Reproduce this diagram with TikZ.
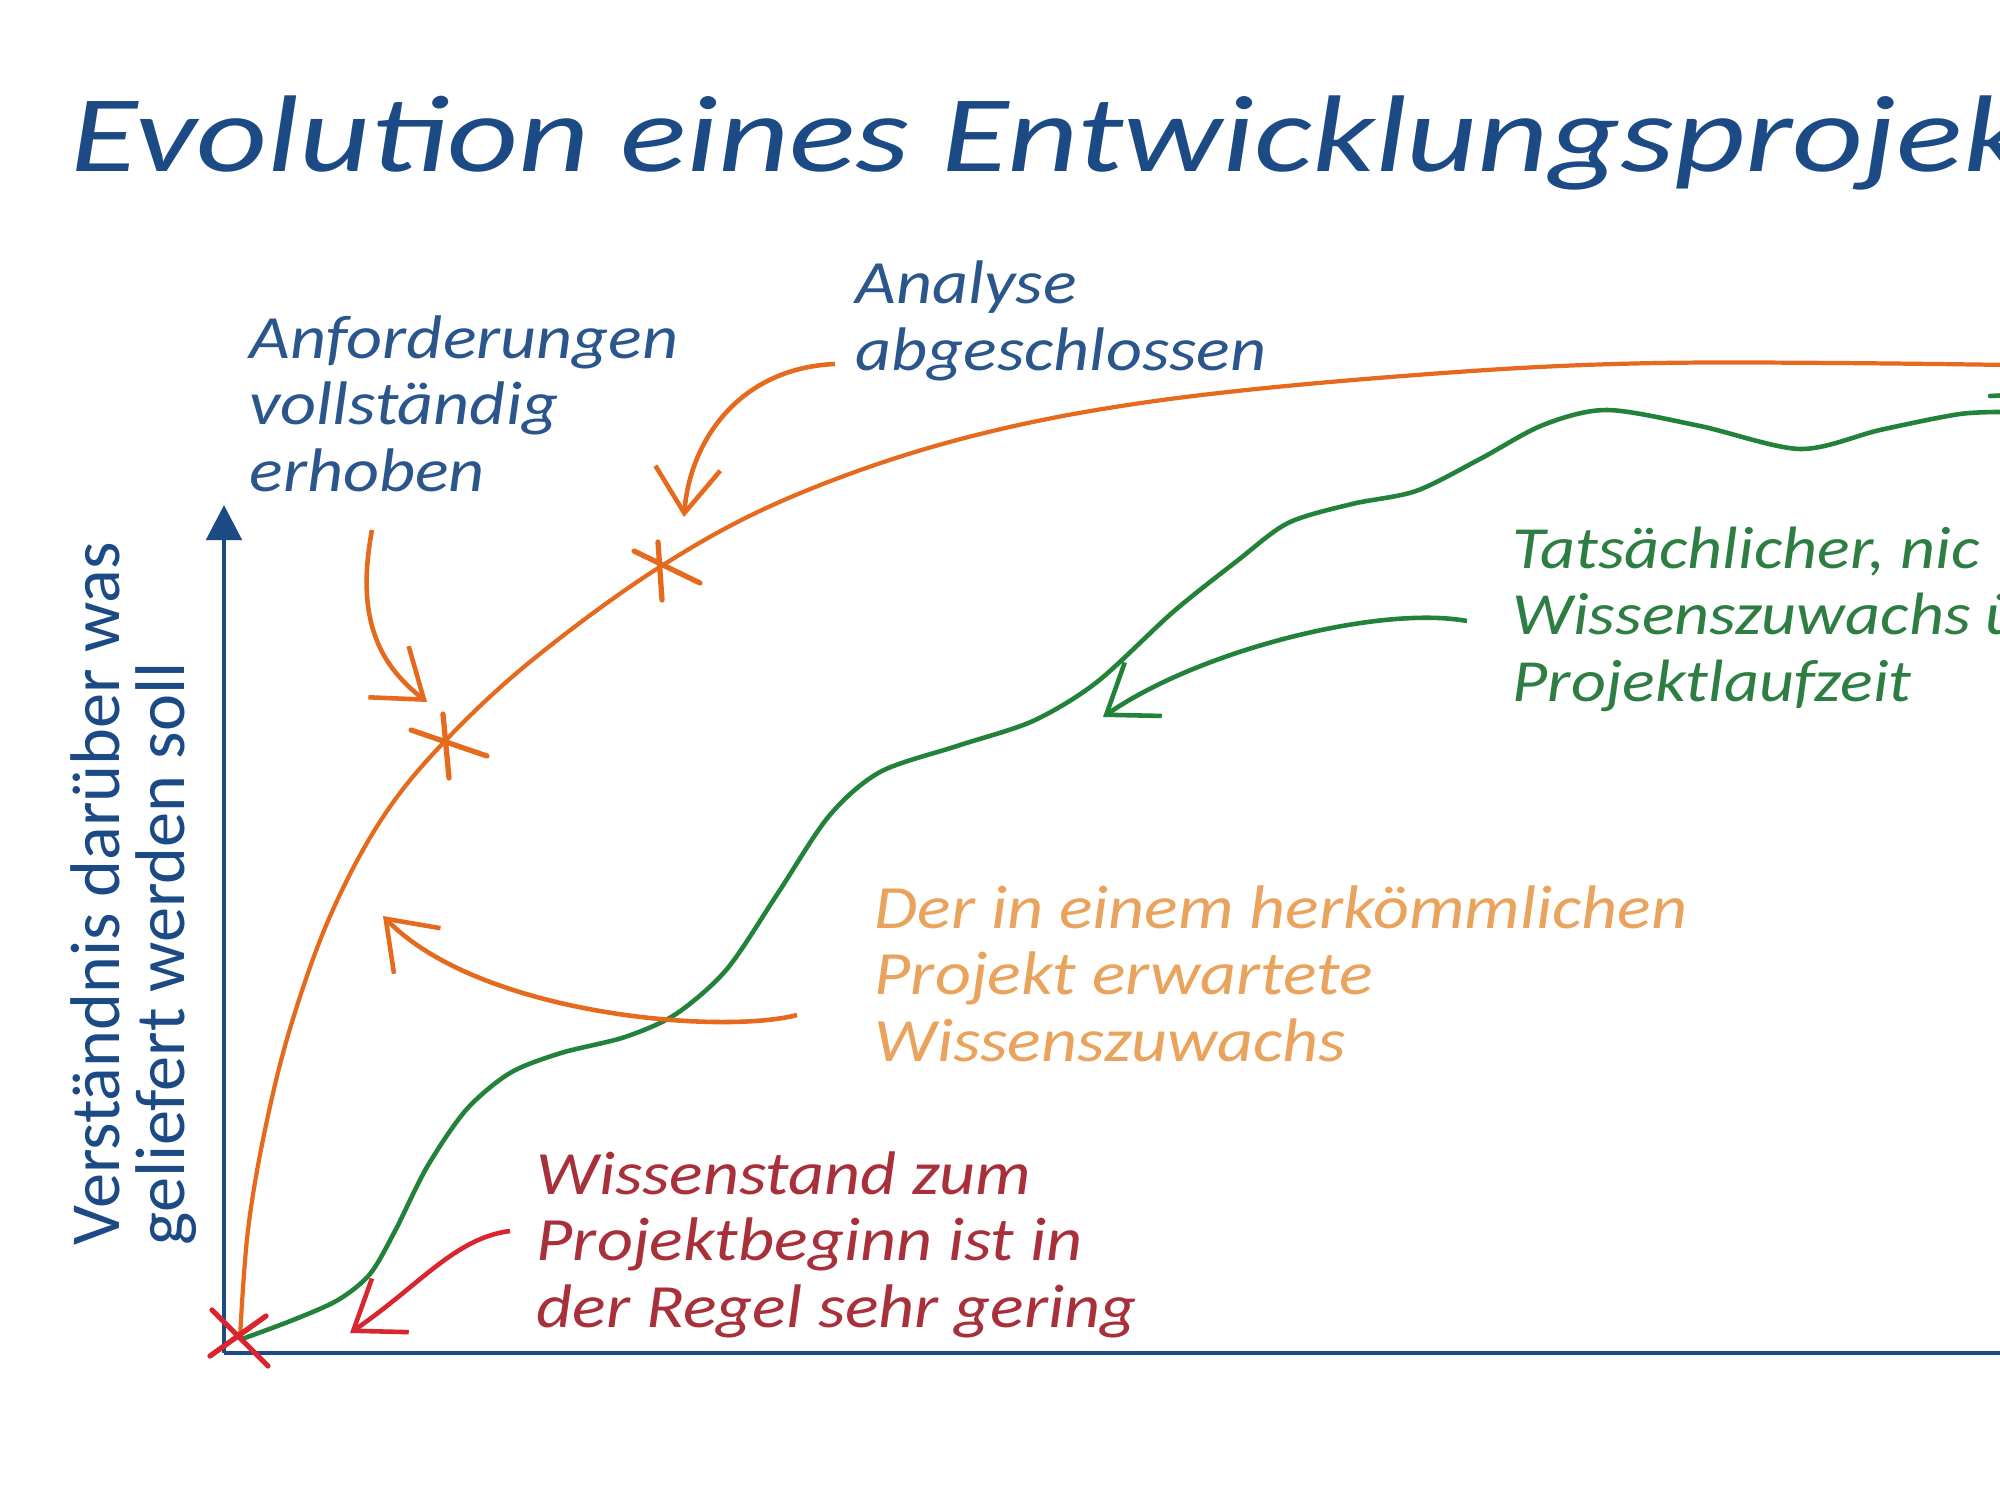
\documentclass[tikz,border=0pt]{standalone}
\usepackage{fontspec}
\setmainfont{Carlito}
\newfontfamily\handfont[FakeStretch=1.14]{Carlito}
\newfontfamily\titlefont[FakeStretch=1.27]{Carlito}
\usetikzlibrary{arrows.meta, positioning, calc}
\definecolor{axisblue}{HTML}{1B4A85}
\definecolor{noteblue}{HTML}{2A568C}
\definecolor{curveorange}{HTML}{E56A1E}
\definecolor{noteorange}{HTML}{EAA35C}
\definecolor{curvegreen}{HTML}{22823A}
\definecolor{notegreen}{HTML}{2E7E44}
\definecolor{notered}{HTML}{A8303A}
\definecolor{arrowred}{HTML}{D8252F}
\tikzset{
    note/.style={anchor=base west, align=left, inner sep=0pt, font=\handfont\itshape\fontsize{17.5}{18.8}\selectfont},
    note_blue/.style={note, text=noteblue},
    note_orange/.style={note, text=noteorange},
    note_green/.style={note, text=notegreen, font=\handfont\itshape\fontsize{17}{18.8}\selectfont},
    note_red/.style={note, text=notered},
    axis_line/.style={draw=axisblue, line width=1.4pt},
    curve_orange/.style={draw=curveorange, line width=1.2pt},
    curve_green/.style={draw=curvegreen, line width=1.3pt},
    cross/.style={line width=1.5pt, line cap=round},
    arrow/.style={-{Straight Barb[length=4.5mm, width=6.5mm]}, line width=1.3pt}
}
\begin{document}
\begin{tikzpicture}[x=0.01cm, y=-0.01cm]
            \useasboundingbox (0,0) rectangle (2000,1500);
            \fill[white] (0,0) rectangle (2000,1500);
            \clip (0,0) rectangle (2000,1500);

            % Title and axis label
            \node (title) [anchor=base west, inner sep=0pt, text=axisblue, font=\titlefont\itshape\fontsize{31}{36}\selectfont] at (70,172) {Evolution eines Entwicklungsprojek};

            \node (ylab) [rotate=90, anchor=west, align=left, inner sep=0pt, text=axisblue, font=\fontsize{20}{18.5}\selectfont] at (134,1246) {Verständnis darüber was\\geliefert werden soll};

            % Axes
            \coordinate (origin) at (224,1353);
            \coordinate (yend) at (224,505);
            \coordinate (xend) at (2010,1353);
            \draw [axis_line, -{Triangle[length=3.5mm, width=3.5mm]}] (origin) -- (yend);
            \draw [axis_line] (origin) -- (xend);

            % Curves
            \draw [curve_orange] plot[smooth, tension=0.6] coordinates {(240,1338) (248,1230) (266,1125) (292,1022) (331,914) (383,817) (446,740) (536,657) (663,565) (791,497) (957,440) (1148,402) (1403,376) (1658,363) (2010,365)};
            \draw [curve_green] plot[smooth, tension=0.5] coordinates {(242,1339) (293,1320) (338,1300) (370,1274) (395,1231) (427,1167) (466,1110) (510,1073) (561,1053) (625,1037) (676,1014) (727,969) (778,893) (829,816) (880,772) (957,746) (1033,721) (1097,682) (1173,612) (1237,561) (1288,523) (1352,504) (1416,491) (1480,459) (1543,425) (1607,410) (1700,426) (1800,449) (1880,430) (1960,414) (2010,412)};
            \draw [curve_green, line cap=round] (1990,396) -- (2010,395);

            % Marks
            \draw [cross, arrowred] (212,1310) -- (268,1366) (210,1356) -- (266,1316);
            \draw [cross, curveorange] (411,730) -- (487,756) (443,714) -- (449,778);
            \draw [cross, curveorange] (634,551) -- (700,583) (658,542) -- (662,600);

            % Notes (placed at the baseline of their last line)
            \node (anf) [note_blue] at (249,491) {Anforderungen\\vollständig\\erhoben};
            \node (ana) [note_blue] at (855,370) {Analyse\\abgeschlossen};
            \node (tats) [note_green] at (1512,701) {Tatsächlicher, nic\\Wissenszuwachs ü\\Projektlaufzeit};
            \node (erw) [note_orange] at (874,1061) {Der in einem herkömmlichen\\Projekt erwartete\\Wissenszuwachs};
            \node (stand) [note_red] at (536,1327) {Wissenstand zum\\Projektbeginn ist in\\der Regel sehr gering};

            % Connections
            \coordinate (anf_from) at (372,530);
            \coordinate (anf_to) at (427,702);
            \coordinate (ana_from) at (835,364);
            \coordinate (ana_to) at (684,517);
            \coordinate (tats_from) at (1467,621);
            \coordinate (tats_to) at (1103,717);
            \coordinate (erw_from) at (797,1015);
            \coordinate (erw_to) at (383,916);
            \coordinate (stand_from) at (510,1231);
            \coordinate (stand_to) at (350,1333);

            \draw [arrow, curveorange] (anf_from) .. controls (355,620) and (380,665) .. (anf_to);
            \draw [arrow, curveorange] (ana_from) .. controls (740,368) and (690,440) .. (ana_to);
            \draw [arrow, curvegreen] (tats_from) .. controls (1380,605) and (1200,650) .. (tats_to);
            \draw [arrow, curveorange] (erw_from) .. controls (720,1035) and (480,1015) .. (erw_to);
            \draw [arrow, arrowred] (stand_from) .. controls (455,1238) and (420,1285) .. (stand_to);
\end{tikzpicture}
\end{document}
